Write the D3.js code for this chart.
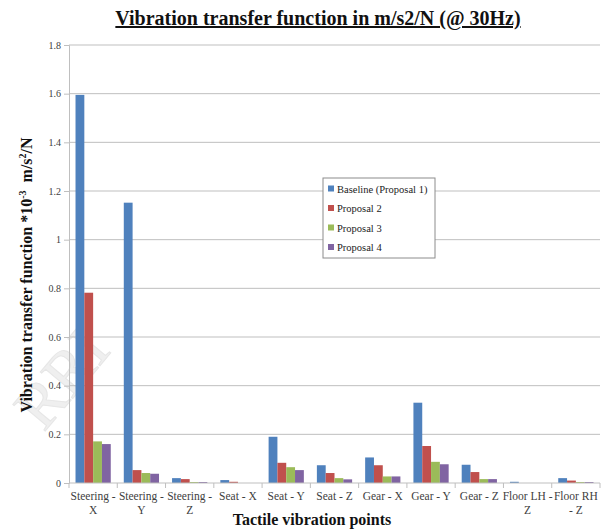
<!DOCTYPE html>
<html>
<head>
<meta charset="utf-8">
<script src="https://cdn.jsdelivr.net/npm/d3@7"></script>
<style>
  body { margin: 0; background: #fff; }
  svg text { font-family: "Liberation Serif", "Times New Roman", serif; }
</style>
</head>
<body>
<div id="chart"></div>
<script>
// Vibration transfer function grouped bars

const CATEGORIES = [
  ["Steering -", "X"], ["Steering -", "Y"], ["Steering -", "Z"],
  ["Seat - X"], ["Seat - Y"], ["Seat - Z"],
  ["Gear - X"], ["Gear - Y"], ["Gear - Z"],
  ["Floor LH -", "Z"], ["Floor RH", "- Z"]
];
const SERIES = ["Baseline (Proposal 1)", "Proposal 2", "Proposal 3", "Proposal 4"];
const COLORS = ["#4F81BD", "#C0504D", "#9BBB59", "#8064A2"];

const BASELINE  = [1.595, 1.152, 0.020, 0.012, 0.190, 0.073, 0.105, 0.330, 0.075, 0.005, 0.020];
const PROPOSAL2 = [0.782, 0.053, 0.016, 0.005, 0.083, 0.041, 0.073, 0.152, 0.045, 0.000, 0.010];
const PROPOSAL3 = [0.171, 0.041, 0.004, 0.000, 0.065, 0.020, 0.027, 0.087, 0.016, 0.000, 0.004];
const PROPOSAL4 = [0.160, 0.038, 0.004, 0.000, 0.053, 0.015, 0.027, 0.077, 0.016, 0.000, 0.004];
const VALUES = [BASELINE, PROPOSAL2, PROPOSAL3, PROPOSAL4];

const Y_TICKS = [0, 0.2, 0.4, 0.6, 0.8, 1, 1.2, 1.4, 1.6, 1.8];

const W = 605, H = 532;
const margin = { top: 45, right: 5, bottom: 49, left: 69 };
const innerW = W - margin.left - margin.right;
const innerH = H - margin.top - margin.bottom;

const svg = d3.select("#chart").append("svg")
  .attr("width", W)
  .attr("height", H);

// faint watermark
svg.append("text")
  .attr("transform", "translate(78,392) rotate(-50)")
  .attr("text-anchor", "middle")
  .attr("font-size", 64)
  .attr("fill", "#efefef")
  .attr("stroke", "#e6e6e6")
  .attr("stroke-width", 1)
  .text("RRI");

// title
svg.append("text")
  .attr("x", 318)
  .attr("y", 25)
  .attr("text-anchor", "middle")
  .attr("font-size", 20)
  .attr("font-weight", 700)
  .attr("text-decoration", "underline")
  .attr("fill", "#111")
  .text("Vibration transfer function in m/s2/N (@ 30Hz)");

const g = svg.append("g")
  .attr("transform", `translate(${margin.left},${margin.top})`);

const x0 = d3.scaleBand()
  .domain(d3.range(CATEGORIES.length))
  .range([0, innerW])
  .paddingInner(0.27)
  .paddingOuter(0.135);

const x1 = d3.scaleBand()
  .domain(d3.range(SERIES.length))
  .range([0, x0.bandwidth()]);

const y = d3.scaleLinear()
  .domain([0, 1.8])
  .range([innerH, 0]);

// gridlines
g.append("g")
  .selectAll("line")
  .data(Y_TICKS.filter(d => d > 0))
  .join("line")
  .attr("x1", 0)
  .attr("x2", innerW)
  .attr("y1", d => y(d))
  .attr("y2", d => y(d))
  .attr("stroke", "#bfbfbf")
  .attr("stroke-width", 1);

// y axis
const yAxis = g.append("g")
  .call(d3.axisLeft(y).tickValues(Y_TICKS).tickSize(5).tickFormat(d3.format("~g")));
yAxis.attr("font-family", null);
yAxis.select(".domain").attr("stroke", "#bfbfbf");
yAxis.selectAll(".tick line").attr("stroke", "#bfbfbf");
yAxis.selectAll(".tick text")
  .attr("font-size", 10)
  .attr("fill", "#404040")
  .attr("x", -8);

// bars
VALUES.forEach((vals, s) => {
  g.append("g")
    .selectAll("rect")
    .data(vals)
    .join("rect")
    .attr("x", (d, i) => x0(i) + x1(s))
    .attr("y", d => y(d))
    .attr("width", x1.bandwidth())
    .attr("height", d => innerH - y(d))
    .attr("fill", COLORS[s]);
});

// x axis line and ticks on category boundaries
const step = innerW / CATEGORIES.length;
const xAxisG = g.append("g").attr("transform", `translate(0,${innerH})`);
xAxisG.append("line")
  .attr("x1", 0).attr("x2", innerW)
  .attr("stroke", "#bfbfbf");
xAxisG.selectAll(".bnd")
  .data(d3.range(CATEGORIES.length + 1))
  .join("line")
  .attr("x1", i => i * step).attr("x2", i => i * step)
  .attr("y1", 0).attr("y2", 5)
  .attr("stroke", "#bfbfbf");

// category labels
xAxisG.selectAll(".cat")
  .data(CATEGORIES)
  .join("text")
  .attr("text-anchor", "middle")
  .attr("font-size", 11.5)
  .attr("fill", "#404040")
  .each(function (lines, i) {
    d3.select(this).selectAll("tspan")
      .data(lines)
      .join("tspan")
      .attr("x", (i + 0.5) * step)
      .attr("y", (d, k) => 17 + k * 14)
      .text(d => d);
  });

// axis titles
svg.append("text")
  .attr("x", 312)
  .attr("y", 525)
  .attr("text-anchor", "middle")
  .attr("font-size", 16)
  .attr("font-weight", 700)
  .attr("fill", "#111")
  .text("Tactile vibration points");

const yTitle = svg.append("text")
  .attr("transform", "translate(32,275) rotate(-90)")
  .attr("text-anchor", "middle")
  .attr("font-size", 16)
  .attr("font-weight", 700)
  .attr("fill", "#111");
yTitle.append("tspan").text("Vibration transfer function *10");
yTitle.append("tspan").attr("dy", -6).attr("font-size", 10).text("-3");
yTitle.append("tspan").attr("dy", 6).text("\u00a0\u00a0m/s");
yTitle.append("tspan").attr("dy", -6).attr("font-size", 10).text("2");
yTitle.append("tspan").attr("dy", 6).text("/N");

// legend
const legend = svg.append("g").attr("transform", "translate(323,178)");
legend.append("rect")
  .attr("width", 112)
  .attr("height", 80)
  .attr("fill", "#fff")
  .attr("stroke", "#8c8c8c");
SERIES.forEach((name, s) => {
  const row = legend.append("g").attr("transform", `translate(5,${11 + s * 19.5})`);
  row.append("rect")
    .attr("x", 0).attr("y", -3.5)
    .attr("width", 6).attr("height", 6)
    .attr("fill", COLORS[s]);
  row.append("text")
    .attr("x", 9)
    .attr("y", 3.5)
    .attr("font-size", 10.5)
    .attr("fill", "#222")
    .text(name);
});
</script>
</body>
</html>
